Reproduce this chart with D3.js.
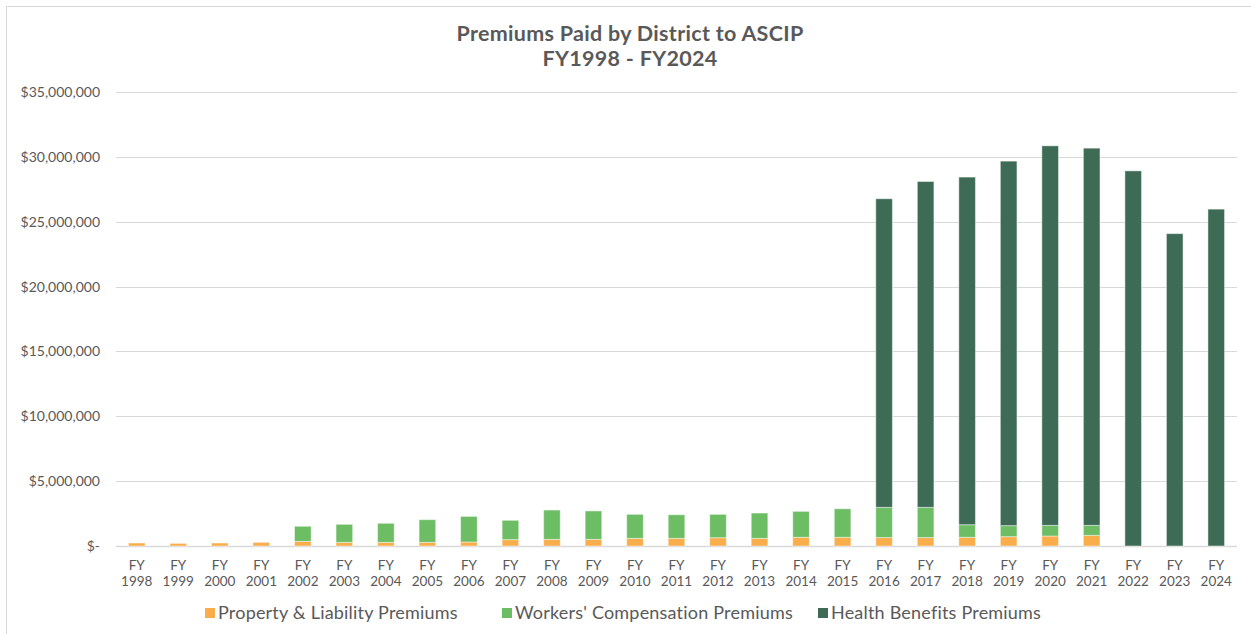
<!DOCTYPE html>
<html>
<head>
<meta charset="utf-8">
<script src="https://cdn.jsdelivr.net/npm/d3@7"></script>
<style>
  html, body { margin: 0; padding: 0; background: #fff; }
  svg { display: block; font-family: "Lato", "Open Sans", sans-serif; }
</style>
</head>
<body>
<svg id="chart" width="1251" height="634"></svg>
<script>
// ---- data ----
const years = ["1998","1999","2000","2001","2002","2003","2004","2005","2006","2007","2008","2009","2010","2011","2012","2013","2014","2015","2016","2017","2018","2019","2020","2021","2022","2023","2024"];
const propertyLiability = [230000,200000,230000,280000,360000,280000,280000,280000,310000,490000,510000,510000,590000,590000,640000,590000,670000,670000,650000,650000,670000,720000,770000,820000,0,0,0];
const workersComp = [0,0,0,0,1160000,1390000,1470000,1750000,1970000,1490000,2260000,2190000,1850000,1820000,1800000,1950000,2000000,2200000,2330000,2330000,970000,850000,820000,770000,0,0,0];
const healthBenefits = [0,0,0,0,0,0,0,0,0,0,0,0,0,0,0,0,0,0,23790000,25120000,26800000,28100000,29260000,29080000,28920000,24080000,25970000];
const seriesNames = ["Property & Liability Premiums","Workers' Compensation Premiums","Health Benefits Premiums"];
const seriesColors = ["#F9AD4B","#6DBD64","#3E6B56"];
const yTicks = [0,5000000,10000000,15000000,20000000,25000000,30000000,35000000];
const titleLines = ["Premiums Paid by District to ASCIP","FY1998 - FY2024"];

// ---- layout ----
const svg = d3.select("#chart");
const W = 1251, H = 634;
const m = {left: 116, right: 14, top: 92, bottom: 88};
const textColor = "#595959";

svg.append("rect").attr("x",6.5).attr("y",6.5).attr("width",W).attr("height",H)
  .attr("fill","#fff").attr("stroke","#d9d9d9").attr("stroke-width",1);

const rows = years.map((y,i)=>({year:y, p:propertyLiability[i], w:workersComp[i], h:healthBenefits[i]}));
const stack = d3.stack().keys(["p","w","h"])(rows);

const x = d3.scaleBand().domain(years).range([m.left, W - m.right]).paddingInner(0.6).paddingOuter(0.3);
const y = d3.scaleLinear().domain([0,35000000]).range([H - m.bottom, m.top]);

// gridlines
svg.append("g").selectAll("line").data(yTicks).join("line")
  .attr("x1", m.left).attr("x2", W - m.right)
  .attr("y1", d=>Math.round(y(d))+0.5).attr("y2", d=>Math.round(y(d))+0.5)
  .attr("stroke", "#d9d9d9").attr("stroke-width", d=> d===0 ? 1.5 : 1);

// y axis labels
const yAxis = d3.axisLeft(y).tickValues(yTicks).tickSize(0).tickPadding(0)
  .tickFormat(d => d===0 ? "$-" : "$" + d3.format(",")(d));
const ya = svg.append("g").attr("transform",`translate(${m.left-16},0)`).call(yAxis);
ya.select(".domain").remove();
ya.selectAll("text").attr("fill", textColor).style("font-size","14px").style("font-family","Lato, sans-serif");

// bars
svg.append("g").selectAll("g").data(stack).join("g")
  .attr("fill",(d,i)=>seriesColors[i])
  .selectAll("rect").data(d=>d.filter(s=>s[1]-s[0]>0)).join("rect")
  .attr("x", d=>x(d.data.year))
  .attr("width", x.bandwidth())
  .attr("y", d=>y(d[1]))
  .attr("height", d=>y(d[0])-y(d[1]))
  .attr("stroke","rgba(255,255,255,0.45)").attr("stroke-width",1);

// x axis labels
const xa = svg.append("g").attr("transform",`translate(0,${H - m.bottom})`);
years.forEach(yr=>{
  const t = xa.append("text").attr("x", x(yr)+x.bandwidth()/2).attr("text-anchor","middle")
    .attr("fill",textColor).style("font-size","13.5px");
  t.append("tspan").attr("x", x(yr)+x.bandwidth()/2).attr("y",24).text("FY");
  t.append("tspan").attr("x", x(yr)+x.bandwidth()/2).attr("y",40).text(yr);
});

// title
const tt = svg.append("text").attr("text-anchor","middle").attr("fill",textColor)
  .style("font-size","21.5px").style("font-weight","bold").style("letter-spacing","0.3px");
titleLines.forEach((l,i)=>tt.append("tspan").attr("x",630).attr("y",41+i*25).text(l));

// legend
const legendX = [205, 502, 818];
const lg = svg.append("g");
seriesNames.forEach((n,i)=>{
  lg.append("rect").attr("x",legendX[i]).attr("y",608).attr("width",10).attr("height",10).attr("fill",seriesColors[i]);
  lg.append("text").attr("x",legendX[i]+13).attr("y",619).attr("fill",textColor)
    .style("font-size","18px").style("letter-spacing","0.2px").text(n);
});
</script>
</body>
</html>
